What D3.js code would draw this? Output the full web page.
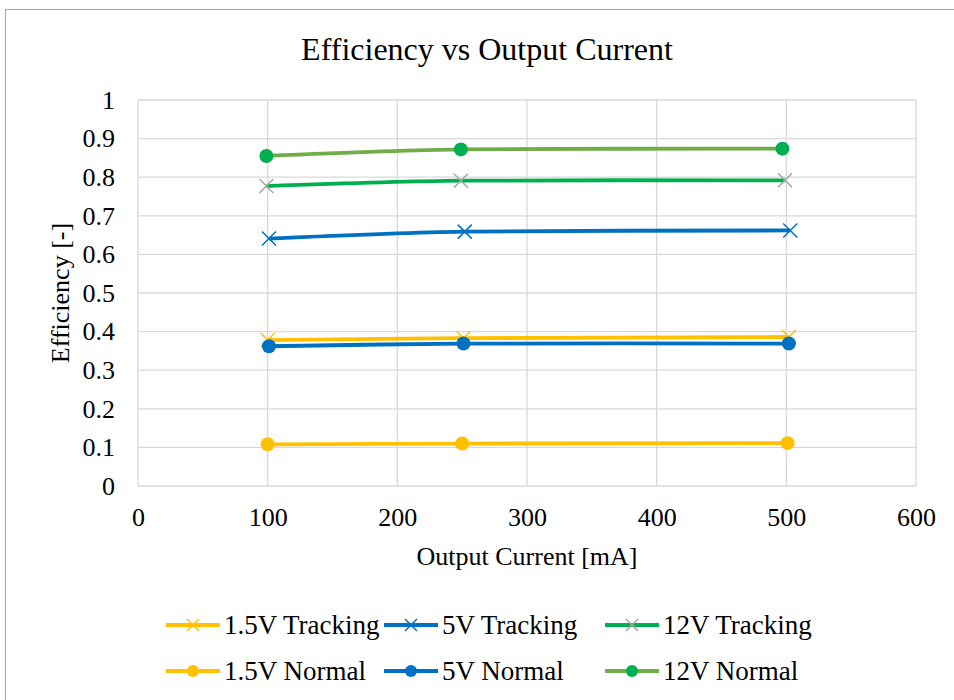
<!DOCTYPE html>
<html>
<head>
    <meta charset="utf-8">
    <title>Efficiency vs Output Current</title>
    <script src="https://d3js.org/d3.v7.min.js"></script>
    <style>
        body { margin: 0; background: #fff; }
    </style>
</head>
<body>
    <div id="chart"></div>
    <script>

        // data
        var xTicks = [0, 100, 200, 300, 400, 500, 600];
        var yTicks = [0, 0.1, 0.2, 0.3, 0.4, 0.5, 0.6, 0.7, 0.8, 0.9, 1];

        var trk15x = [100, 251, 502];
        var trk15y = [0.378, 0.383, 0.386];
        var trk5x = [101, 252, 503];
        var trk5y = [0.641, 0.659, 0.662];
        var trk12x = [99, 249, 499];
        var trk12y = [0.777, 0.791, 0.792];

        var nrm15x = [100, 250, 501];
        var nrm15y = [0.108, 0.110, 0.111];
        var nrm5x = [101, 251, 502];
        var nrm5y = [0.362, 0.369, 0.369];
        var nrm12x = [99, 249, 497];
        var nrm12y = [0.855, 0.872, 0.874];

        var series = [
            {name: "1.5V Tracking", xs: trk15x, ys: trk15y, line: "#FFC000", mark: "#FFC000", shape: "x"},
            {name: "5V Tracking", xs: trk5x, ys: trk5y, line: "#0070C0", mark: "#0070C0", shape: "x"},
            {name: "12V Tracking", xs: trk12x, ys: trk12y, line: "#00B050", mark: "#A5A5A5", shape: "x"},
            {name: "1.5V Normal", xs: nrm15x, ys: nrm15y, line: "#FFC000", mark: "#FFC000", shape: "o"},
            {name: "5V Normal", xs: nrm5x, ys: nrm5y, line: "#0070C0", mark: "#0070C0", shape: "o"},
            {name: "12V Normal", xs: nrm12x, ys: nrm12y, line: "#70AD47", mark: "#00B050", shape: "o"}
        ];

        var W = 954, H = 700;
        var margin = {top: 100, right: 38, bottom: 214, left: 138};
        var width = W - margin.left - margin.right;
        var height = H - margin.top - margin.bottom;
        var serif = "Liberation Serif";

        var root = d3.select("#chart")
                    .append("svg")
                    .attr("width", W)
                    .attr("height", H)
                    .attr("font-family", serif);

        // chart border
        root.append("rect")
            .attr("x", 5.5)
            .attr("y", 9.5)
            .attr("width", 970)
            .attr("height", 720)
            .attr("fill", "none")
            .attr("stroke", "#A6A6A6")
            .attr("stroke-width", 1);

        var svg = root.append("g")
                    .attr("transform", "translate(" + margin.left + "," + margin.top + ")");

        var x = d3.scaleLinear().domain([0, 600]).range([0, width]);
        var y = d3.scaleLinear().domain([0, 1]).range([height, 0]);

        // grid
        svg.append("g")
            .selectAll("line")
            .data(yTicks)
            .join("line")
            .attr("x1", 0).attr("x2", width)
            .attr("y1", function(d) { return y(d); })
            .attr("y2", function(d) { return y(d); })
            .attr("stroke", "#D9D9D9")
            .attr("stroke-width", 1.3);
        svg.append("g")
            .selectAll("line")
            .data(xTicks)
            .join("line")
            .attr("y1", 0).attr("y2", height)
            .attr("x1", function(d) { return x(d); })
            .attr("x2", function(d) { return x(d); })
            .attr("stroke", "#D9D9D9")
            .attr("stroke-width", 1.3);

        // axes (labels only)
        var xAxis = svg.append("g")
            .attr("transform", "translate(0," + height + ")")
            .call(d3.axisBottom(x).tickValues(xTicks).tickSize(0).tickPadding(22).tickFormat(d3.format("d")));
        var yAxis = svg.append("g")
            .call(d3.axisLeft(y).tickValues(yTicks).tickSize(0).tickPadding(23).tickFormat(function(d) { return String(+d.toFixed(1)); }));
        [xAxis, yAxis].forEach(function(a) {
            a.attr("font-family", null).attr("font-size", null);
            a.select(".domain").remove();
            a.selectAll("text")
                .attr("fill", "#000")
                .attr("font-family", serif)
                .attr("font-size", 26);
        });

        var line = d3.line()
            .x(function(d) { return x(d[0]); })
            .y(function(d) { return y(d[1]); })
            .curve(d3.curveCardinal.tension(0.3));

        function drawMarker(g, shape, color, r) {
            if (shape === "x") {
                g.append("path")
                    .attr("d", "M" + (-r) + "," + (-r) + "L" + r + "," + r + "M" + (-r) + "," + r + "L" + r + "," + (-r))
                    .attr("stroke", color)
                    .attr("stroke-width", 1.5)
                    .attr("fill", "none");
            } else {
                g.append("circle")
                    .attr("r", r)
                    .attr("fill", color);
            }
        }

        series.forEach(function(s) {
            var pts = s.xs.map(function(v, i) { return [v, s.ys[i]]; });
            svg.append("path")
                .datum(pts)
                .attr("fill", "none")
                .attr("stroke", s.line)
                .attr("stroke-width", 3.8)
                .attr("d", line);
            pts.forEach(function(p) {
                var g = svg.append("g")
                    .attr("transform", "translate(" + x(p[0]) + "," + y(p[1]) + ")");
                drawMarker(g, s.shape, s.mark, 7);
            });
        });

        // title
        root.append("text")
            .attr("x", 487)
            .attr("y", 60)
            .attr("text-anchor", "middle")
            .attr("font-size", 32)
            .text("Efficiency vs Output Current");

        // axis titles
        root.append("text")
            .attr("x", margin.left + width / 2)
            .attr("y", 565)
            .attr("text-anchor", "middle")
            .attr("font-size", 26)
            .text("Output Current [mA]");

        root.append("text")
            .attr("transform", "translate(69," + (margin.top + height / 2) + ") rotate(-90)")
            .attr("text-anchor", "middle")
            .attr("font-size", 26)
            .text("Efficiency [-]");

        // legend
        var legX = [166, 384, 605];
        var legY = [625, 671];
        series.forEach(function(s, i) {
            var lx = legX[i % 3], ly = legY[Math.floor(i / 3)];
            var g = root.append("g").attr("transform", "translate(" + lx + "," + ly + ")");
            g.append("line")
                .attr("x1", 0).attr("x2", 54)
                .attr("y1", 0).attr("y2", 0)
                .attr("stroke", s.line)
                .attr("stroke-width", 3.8);
            var m = g.append("g").attr("transform", "translate(27,0)");
            drawMarker(m, s.shape, s.mark, 6);
            g.append("text")
                .attr("x", 58)
                .attr("y", 9)
                .attr("font-size", 27)
                .text(s.name);
        });

    </script>
</body>
</html>
